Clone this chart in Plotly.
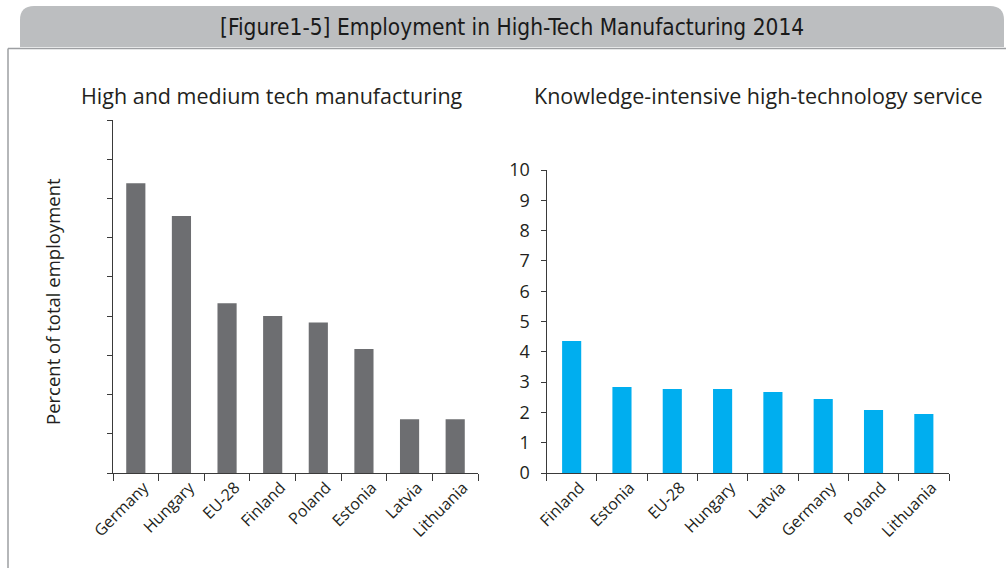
import plotly.graph_objects as go

# Employment shares, 2014 (percent of total employment)
manuf_countries = ["Germany", "Hungary", "EU-28", "Finland", "Poland", "Estonia", "Latvia", "Lithuania"]
manuf_values = [7.39, 6.55, 4.33, 4.0, 3.84, 3.16, 1.37, 1.37]

service_countries = ["Finland", "Estonia", "EU-28", "Hungary", "Latvia", "Germany", "Poland", "Lithuania"]
service_values = [4.36, 2.84, 2.77, 2.77, 2.67, 2.44, 2.08, 1.95]

W, H = 1006, 568
FONT = "Open Sans"
AXIS_COLOR = "#3a3a3a"
TEXT_COLOR = "#231f20"


def px_x(x):
    return x / W


def px_y(y):
    return (H - y) / H


fig = go.Figure()

fig.add_trace(go.Bar(
    x=manuf_countries, y=manuf_values,
    marker=dict(color="#6d6e71", line=dict(width=0)),
    width=0.42, xaxis="x", yaxis="y", showlegend=False,
))
fig.add_trace(go.Bar(
    x=service_countries, y=service_values,
    marker=dict(color="#00aeef", line=dict(width=0)),
    width=0.38, xaxis="x2", yaxis="y2", showlegend=False,
))

common_x = dict(
    type="category", tickangle=-45, ticks="outside", tickson="boundaries",
    ticklen=7, tickwidth=1, tickcolor=AXIS_COLOR, showline=True,
    linecolor=AXIS_COLOR, linewidth=1, showgrid=False, zeroline=False,
    range=[-0.5, 7.5], tickfont=dict(family=FONT, size=16, color=TEXT_COLOR),
    ticklabelshift=8, ticklabelstandoff=-2,
    fixedrange=True, automargin=False,
)
common_y = dict(
    ticks="outside", ticklen=5, tickwidth=1, tickcolor=AXIS_COLOR,
    showline=True, linecolor=AXIS_COLOR, linewidth=1, showgrid=False,
    zeroline=False, dtick=1, tickfont=dict(family=FONT, size=18, color=TEXT_COLOR),
    fixedrange=True, automargin=False,
)

fig.update_layout(
    width=W, height=H,
    margin=dict(l=0, r=0, t=0, b=0, autoexpand=False),
    paper_bgcolor="white", plot_bgcolor="white",
    bargap=0.5,
    xaxis=dict(common_x, domain=[px_x(113), px_x(478)], anchor="y"),
    yaxis=dict(common_y, domain=[px_y(473), px_y(120)], range=[0, 9],
               showticklabels=False, anchor="x"),
    xaxis2=dict(common_x, domain=[px_x(546.5), px_x(949)], anchor="y2"),
    yaxis2=dict(common_y, domain=[px_y(473), px_y(170)], range=[0, 10],
                tick0=0, ticklabelstandoff=7, anchor="x2"),
)

# Header bar with rounded top corners
x0, x1, y0, y1, r = 20, 1004, 6, 47, 14
path = (
    f"M {px_x(x0)} {px_y(y1)} L {px_x(x0)} {px_y(y0 + r)} "
    f"Q {px_x(x0)} {px_y(y0)} {px_x(x0 + r)} {px_y(y0)} "
    f"L {px_x(x1 - r)} {px_y(y0)} "
    f"Q {px_x(x1)} {px_y(y0)} {px_x(x1)} {px_y(y0 + r)} "
    f"L {px_x(x1)} {px_y(y1)} Z"
)
fig.add_shape(type="path", path=path, xref="paper", yref="paper",
              fillcolor="#bcbec0", line=dict(width=0), layer="below")
# Frame under the header
fig.add_shape(type="line", xref="paper", yref="paper",
              x0=px_x(8), x1=1, y0=px_y(48.5), y1=px_y(48.5),
              line=dict(color="#9d9fa2", width=1.5))
fig.add_shape(type="line", xref="paper", yref="paper",
              x0=px_x(8), x1=px_x(8), y0=px_y(48.5), y1=0,
              line=dict(color="#9d9fa2", width=1.5))

fig.add_annotation(
    text="[Figure1-5] Employment in High-Tech Manufacturing 2014",
    xref="paper", yref="paper", x=px_x(512), y=px_y(27),
    xanchor="center", yanchor="middle", showarrow=False,
    font=dict(family="DejaVu Sans Condensed, Liberation Sans Narrow, Roboto", size=22.5,
              color="#1a1a1a"),
)
fig.add_annotation(
    text="High and medium tech manufacturing",
    xref="paper", yref="paper", x=px_x(272), y=px_y(95),
    xanchor="center", yanchor="middle", showarrow=False,
    font=dict(family=FONT, size=21.5, color=TEXT_COLOR),
)
fig.add_annotation(
    text="Knowledge-intensive high-technology service",
    xref="paper", yref="paper", x=px_x(758), y=px_y(95),
    xanchor="center", yanchor="middle", showarrow=False,
    font=dict(family=FONT, size=21.5, color=TEXT_COLOR),
)
fig.add_annotation(
    text="Percent of total employment",
    xref="paper", yref="paper", x=px_x(52), y=px_y(302),
    xanchor="center", yanchor="middle", showarrow=False, textangle=-90,
    font=dict(family=FONT, size=18.5, color=TEXT_COLOR),
)

fig.write_html("out.html")
